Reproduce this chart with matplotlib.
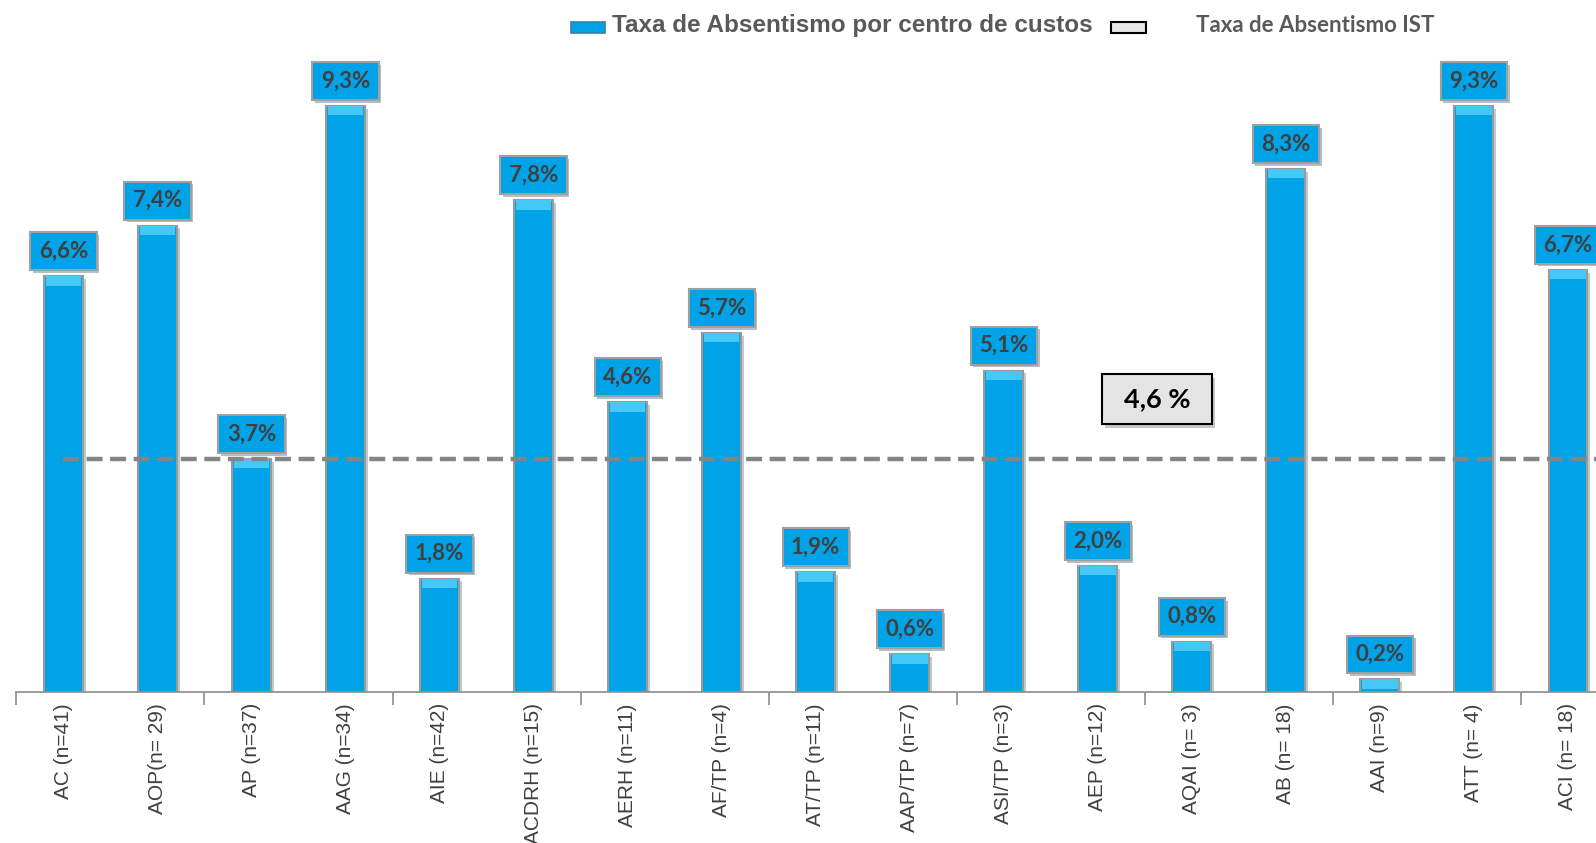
import matplotlib.pyplot as plt
import matplotlib.patheffects as pe
from matplotlib.patches import Patch, Rectangle
import numpy as np

# dados
centros = ["AC (n=41)", "AOP(n= 29)", "AP (n=37)", "AAG (n=34)", "AIE (n=42)",
           "ACDRH (n=15)", "AERH (n=11)", "AF/TP (n=4)", "AT/TP (n=11)", "AAP/TP (n=7)",
           "ASI/TP (n=3)", "AEP (n=12)", "AQAI (n= 3)", "AB (n= 18)", "AAI (n=9)",
           "ATT (n= 4)", "ACI (n= 18)"]
taxas = [6.6, 7.4, 3.7, 9.3, 1.8, 7.8, 4.6, 5.7, 1.9, 0.6, 5.1, 2.0, 0.8, 8.3, 0.2, 9.3, 6.7]
rotulos = ["6,6%", "7,4%", "3,7%", "9,3%", "1,8%", "7,8%", "4,6%", "5,7%", "1,9%", "0,6%",
           "5,1%", "2,0%", "0,8%", "8,3%", "0,2%", "9,3%", "6,7%"]
linha_ist = 3.7
rotulo_ist = "4,6 %"

azul = "#00A3E8"
cinza = "#8C8C8C"
texto = "#404040"

fig = plt.figure(figsize=(15.96, 8.43), dpi=100)
ax = fig.add_axes([0.0103, 0.179, 0.9897, 0.75])

x = np.arange(len(centros))
barras = ax.bar(x, taxas, width=0.41, color=azul, edgecolor="#9A9A9A", linewidth=1.5, zorder=2)
for b in barras:
    b.set_path_effects([pe.SimplePatchShadow(offset=(2, -2), alpha=0.25), pe.Normal()])
# brilho no topo das barras
bisel = 0.15
ax.bar(x, bisel, bottom=np.array(taxas) - bisel, width=0.38, color="#45C8F5", linewidth=0, zorder=2.5)

# linha IST
ax.hlines(linha_ist, x[0], 16.5, colors="#858585", linestyles=(0, (3.6, 1.7)), linewidth=3.2, zorder=3)

# rotulos das barras
for xi, v, r in zip(x, taxas, rotulos):
    t = ax.annotate(r, xy=(xi, v), xytext=(0, 18), textcoords="offset points",
                    ha="center", va="center", fontsize=16, fontweight="bold",
                    family="Lato", color=texto, zorder=5,
                    bbox=dict(boxstyle="square,pad=0.38", facecolor=azul, edgecolor="#A0A0A0", linewidth=1.5))
    t.get_bbox_patch().set_path_effects([pe.SimplePatchShadow(offset=(2, -2), alpha=0.3), pe.Normal()])

# caixa 4,6 %
cx, cy = 11.63, 4.65
caixa = Rectangle((cx - 0.585, cy - 0.40), 1.17, 0.80, facecolor="#E4E4E4", edgecolor="black",
                  linewidth=1.5, zorder=4)
caixa.set_path_effects([pe.SimplePatchShadow(offset=(2, -3), alpha=0.3), pe.Normal()])
ax.add_patch(caixa)
ax.text(cx, cy, rotulo_ist, ha="center", va="center", fontsize=19.5, fontweight="bold",
        family="Lato", color="black", zorder=5)

ax.set_xlim(-0.5, 16.30)
ax.set_ylim(0, 10.03)
ax.set_yticks([])
for s in ["left", "right", "top"]:
    ax.spines[s].set_visible(False)
ax.spines["bottom"].set_color(cinza)
ax.spines["bottom"].set_linewidth(1.2)

ax.set_xticks(x)
ax.set_xticklabels(centros, rotation=90, fontsize=15, color=texto, family="Liberation Sans")
ax.tick_params(axis="x", which="major", length=0, pad=8)
ax.set_xticks(np.arange(-0.5, 16.5, 2), minor=True)
ax.tick_params(axis="x", which="minor", length=9, width=1.2, color=cinza)

# legenda
handles = [Patch(facecolor=azul, edgecolor="#3A7FA8", linewidth=1.2),
           Patch(facecolor="#E6E6E6", edgecolor="black", linewidth=1.5)]
leg = fig.legend(handles, ["Taxa de Absentismo por centro de custos", "        Taxa de Absentismo IST"],
                 loc="upper center", bbox_to_anchor=(0.628, 0.998), ncol=2, frameon=False,
                 handlelength=2.5, handleheight=0.85, columnspacing=1.3, handletextpad=0.5)
tx = leg.get_texts()
tx[0].set_fontsize(17.5)
tx[0].set_fontweight("bold")
tx[0].set_color("#595959")
tx[0].set_family("Liberation Sans")
tx[1].set_fontsize(16)
tx[1].set_fontweight("bold")
tx[1].set_color("#595959")
tx[1].set_family("Lato")

fig.savefig("out.png", dpi=100)
